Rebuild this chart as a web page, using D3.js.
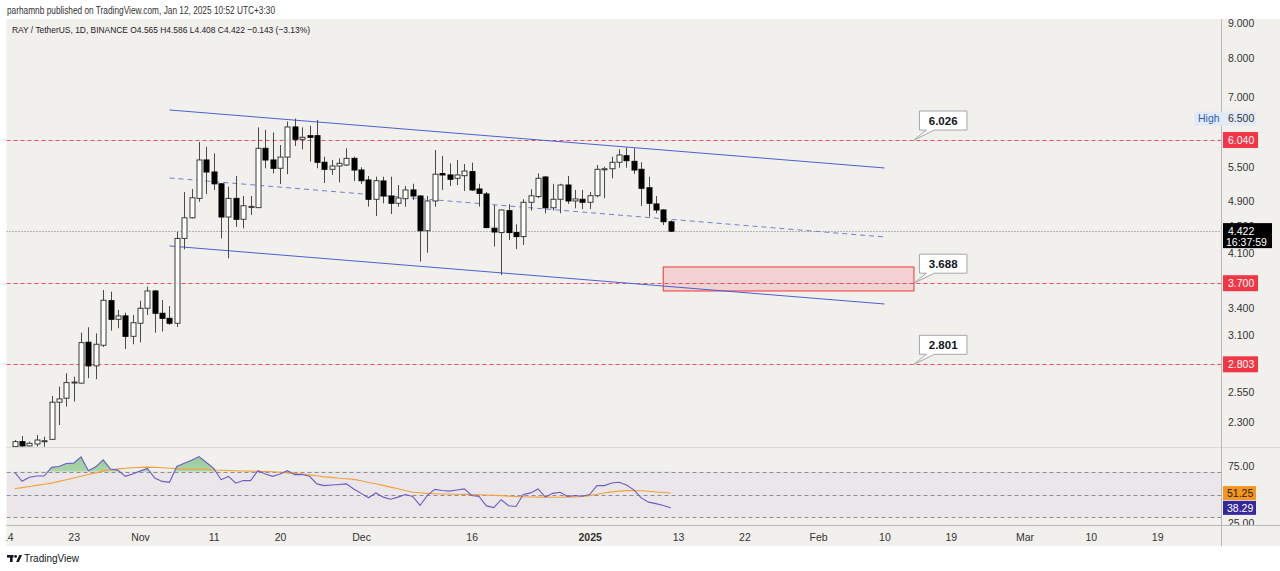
<!DOCTYPE html>
<html><head><meta charset="utf-8">
<script src="https://cdn.jsdelivr.net/npm/d3@7"></script>
<style>
html,body{margin:0;padding:0;background:#fff;}
svg{display:block;font-family:"Liberation Sans","DejaVu Sans",Arial,sans-serif;}
</style>
</head><body>
<svg id="c" width="1280" height="571"></svg>
<script>
// ---------------- DATA ----------------
const firstDay = "2024-10-15";
const lastDay = "2025-01-12";
const open = [2.115,2.151,2.120,2.134,2.156,2.168,2.462,2.496,2.633,2.628,
3.023,2.788,2.992,3.485,3.270,3.308,3.085,3.226,3.396,3.603,
3.338,3.281,3.226,4.313,4.628,4.946,5.641,5.414,5.199,4.641,
4.946,4.605,4.808,4.792,5.871,5.641,5.483,5.697,6.316,6.055,
6.130,6.130,5.597,5.464,5.526,5.545,5.672,5.451,5.268,4.931,
5.250,4.987,4.864,4.941,5.091,4.987,4.428,4.903,5.384,5.359,
5.298,5.346,5.421,5.108,5.022,4.466,4.400,4.743,4.400,4.340,
4.881,4.978,5.322,4.790,4.931,5.178,4.903,4.931,4.881,4.992,
5.470,5.474,5.597,5.724,5.615,5.464,5.130,4.853,4.754,4.565];
const high = [2.163,2.193,2.151,2.201,2.188,2.515,2.597,2.719,2.687,3.124,
3.182,3.115,3.615,3.594,3.376,3.345,3.319,3.485,3.656,3.615,
3.493,3.422,4.414,5.056,5.109,6.000,5.903,5.771,5.210,5.148,
5.340,4.988,4.988,6.307,6.255,6.199,5.938,6.434,6.500,6.307,
6.340,6.469,5.705,5.641,5.672,5.871,5.705,5.502,5.340,5.328,
5.328,5.328,5.178,5.160,5.200,5.000,4.988,5.837,5.720,5.576,
5.641,5.564,5.589,5.199,5.056,4.836,4.760,4.847,4.526,4.931,
5.103,5.389,5.340,5.199,5.199,5.341,5.091,5.091,5.056,5.545,
5.513,5.705,5.850,5.890,5.870,5.597,5.328,4.988,4.765,4.586];
const low = [2.113,2.113,2.118,2.115,2.115,2.163,2.277,2.425,2.467,2.625,
2.673,2.664,2.974,3.145,3.171,2.954,3.002,3.022,3.319,3.124,
3.135,3.207,3.185,4.155,4.616,4.889,5.022,5.091,4.313,4.029,
4.488,4.464,4.673,4.790,5.483,5.385,5.196,5.373,5.918,5.850,
5.609,5.483,5.214,5.359,5.225,5.526,5.250,5.196,4.808,4.657,
4.864,4.689,4.808,4.808,4.919,3.983,4.106,4.808,5.091,5.160,
5.178,5.074,5.074,4.808,4.466,4.196,3.806,4.290,4.158,4.217,
4.743,4.950,4.700,4.743,4.700,4.853,4.782,4.770,4.770,4.965,
4.950,5.298,5.494,5.494,5.378,4.819,4.646,4.700,4.516,4.408];
const close = [2.151,2.120,2.139,2.163,2.158,2.462,2.490,2.633,2.638,3.019,
2.788,3.002,3.490,3.270,3.308,3.085,3.232,3.396,3.603,3.338,
3.281,3.226,4.313,4.628,4.956,5.641,5.414,5.199,4.641,4.946,
4.605,4.824,4.812,5.871,5.641,5.483,5.697,6.316,6.055,6.097,
6.097,5.597,5.464,5.526,5.577,5.672,5.451,5.255,4.931,5.255,
4.987,4.864,4.953,5.091,4.987,4.428,4.903,5.373,5.359,5.281,
5.359,5.432,5.091,5.032,4.476,4.409,4.754,4.400,4.340,4.881,
4.990,5.298,4.790,4.931,5.178,4.903,4.937,4.881,4.992,5.464,
5.474,5.597,5.738,5.628,5.451,5.120,4.864,4.754,4.567,4.422];
const rsi = [69.4,61.6,65.1,66.2,66.2,73.8,74.6,77.2,77.5,83.0,
70.9,74.3,80.4,72.3,71.4,65.9,68.0,70.5,72.9,64.5,
61.5,60.7,74.6,77.5,80.0,83.3,78.1,72.9,63.0,65.9,
59.9,62.2,62.2,70.9,68.0,65.9,68.0,70.9,67.4,67.6,
66.0,59.3,57.8,58.4,58.8,59.3,54.9,51.0,47.1,51.4,
47.7,45.9,47.7,50.0,48.3,40.4,49.5,54.5,53.5,53.0,
54.0,54.9,49.1,48.3,40.0,38.5,45.4,40.1,39.5,50.0,
51.4,54.9,47.7,51.0,52.0,48.3,49.1,48.5,50.0,57.8,
57.8,60.1,60.7,58.4,54.1,47.0,43.3,42.0,40.4,38.29];
const rsiMa = [55,56,57,58,59,60,61.5,63,64.5,66,
67.5,69,70.5,71.5,72.5,73,73.5,73.8,74,73.8,
73.5,73,72.5,72.3,72.2,72.2,72,71.5,71.3,71,
70.8,70.6,70.5,70.3,70.2,70,69.5,69,68.5,68,
67.2,66.5,65.5,65,64.3,63.8,63.3,62,60.5,59.5,
58,56.5,55,53.5,52,51.5,51,50.7,50.5,50.4,
50.2,50.1,50,49.8,49.5,49.2,49,48.6,48.3,48,
47.8,47.7,47.7,47.6,47.6,47.7,47.8,48.3,49,50.2,
51.3,52.3,53,53.4,53.5,53.3,52.8,52.2,51.7,51.25];

const priceTicks = [2.3, 2.55, 3.1, 3.4, 4.1, 4.5, 4.9, 5.5, 6.5, 7, 8, 9];
const redLevels = [6.040, 3.700, 2.803];
const calloutTexts = ["6.026", "3.688", "2.801"];
const lastPrice = 4.422;
const countdown = "16:37:59";
const highValue = 6.500;
const rsiLevels = [70, 50, 30];
const rsiTicks = [75, 25];
const xTickDates = ["2024-10-14","2024-10-23","2024-11-01","2024-11-11","2024-11-20","2024-12-01","2024-12-16","2025-01-01","2025-01-13","2025-01-22","2025-02-01","2025-02-10","2025-02-19","2025-03-01","2025-03-10","2025-03-19"];
const xTickLabels = ["14","23","Nov","11","20","Dec","16","2025","13","22","Feb","10","19","Mar","10","19"];
const channelDates = ["2024-11-05","2025-02-10"];
const channelUpper = [6.694, 5.489];
const channelMid = [5.304, 4.334];
const channelLower = [4.203, 3.446];
const zoneDates = ["2025-01-11","2025-02-14"];
const zonePrices = [3.911, 3.603];
const calloutDate = "2025-02-14";

// ---------------- LAYOUT ----------------
const parse = d3.utcParse("%Y-%m-%d");
const dates = d3.utcDay.range(parse(firstDay), d3.utcDay.offset(parse(lastDay), 1));
const CL = 6.5, AX = 1221, CT = 19, PB = 447, RT = 448, RB = 525, XB = 546;

const x = d3.scaleUtc().domain([parse(firstDay), parse(lastDay)]).range([14.7, 670.7]);
const y = d3.scaleLog().domain([2.3, 9]).range([422.1, 23.5]);
const ry = d3.scaleLinear().domain([30, 70]).range([517.3, 471.7]);

const svg = d3.select("#c");
const defs = svg.append("defs");
defs.append("clipPath").attr("id","mainClip").append("rect").attr("x",CL).attr("y",CT).attr("width",AX-CL).attr("height",PB-CT);
defs.append("clipPath").attr("id","rsiClip").append("rect").attr("x",CL).attr("y",RT).attr("width",AX-CL).attr("height",RB-RT);
defs.append("clipPath").attr("id","rsiAxClip").append("rect").attr("x",AX).attr("y",RT).attr("width",1280-AX).attr("height",RB-RT);
defs.append("clipPath").attr("id","xAxClip").append("rect").attr("x",CL).attr("y",RB).attr("width",AX-CL).attr("height",XB-RB);
defs.append("clipPath").attr("id","obClip").append("rect").attr("x",CL).attr("y",RT).attr("width",AX-CL).attr("height",ry(70)-RT);
const g1 = defs.append("linearGradient").attr("id","obGrad").attr("x1",0).attr("y1",0).attr("x2",0).attr("y2",1);
g1.append("stop").attr("offset","0%").attr("stop-color","#4caf50").attr("stop-opacity",0.55);
g1.append("stop").attr("offset","100%").attr("stop-color","#4caf50").attr("stop-opacity",0.12);

// backgrounds
svg.append("rect").attr("width",1280).attr("height",571).attr("fill","#ffffff");
svg.append("rect").attr("x",CL).attr("y",CT).attr("width",1280-CL).attr("height",XB-CT).attr("fill","#f2f0ed");

// header
svg.append("text").attr("x",7).attr("y",13.5).attr("font-size",10).attr("fill","#333")
  .attr("textLength",268).attr("lengthAdjust","spacingAndGlyphs")
  .text("parhamnb published on TradingView.com, Jan 12, 2025 10:52 UTC+3:30");
svg.append("text").attr("x",12).attr("y",32.5).attr("font-size",9.5).attr("fill","#222")
  .attr("textLength",298).attr("lengthAdjust","spacingAndGlyphs")
  .text("RAY / TetherUS, 1D, BINANCE O4.565 H4.586 L4.408 C4.422 \u22120.143 (\u22123.13%)");

// main pane
const main = svg.append("g").attr("clip-path","url(#mainClip)");

// red dashed levels
main.selectAll("line.lvl").data(redLevels).join("line")
  .attr("x1",CL).attr("x2",AX).attr("y1",d=>Math.round(y(d))+0.5).attr("y2",d=>Math.round(y(d))+0.5)
  .attr("stroke","#ee4a5c").attr("stroke-width",1).attr("stroke-dasharray","4,3");

// current price dotted line
main.append("line").attr("x1",CL).attr("x2",AX)
  .attr("y1",Math.round(y(lastPrice))+0.5).attr("y2",Math.round(y(lastPrice))+0.5)
  .attr("stroke","#777").attr("stroke-dasharray","1,2");

// target zone
main.append("rect")
  .attr("x",x(parse(zoneDates[0]))).attr("y",y(zonePrices[0]))
  .attr("width",x(parse(zoneDates[1]))-x(parse(zoneDates[0])))
  .attr("height",y(zonePrices[1])-y(zonePrices[0]))
  .attr("fill","rgba(242,54,69,0.16)").attr("stroke","#f0524f").attr("stroke-width",1.2);

// channel
const chLine = d3.line().x(d=>x(d[0])).y(d=>y(d[1]));
const cd = channelDates.map(parse);
[[channelUpper,null],[channelMid,"5,4"],[channelLower,null]].forEach(([arr,dash])=>{
  main.append("path").attr("d",chLine(cd.map((d,i)=>[d,arr[i]])))
    .attr("fill","none").attr("stroke", dash ? "#6e7fd6" : "#4b5fd3").attr("stroke-width",1)
    .attr("stroke-dasharray",dash);
});

// candles
const bw = 5;
const cg = main.append("g");
dates.forEach((d,i)=>{
  const cx = Math.round(x(d)) + 0.5;
  const up = close[i] >= open[i];
  cg.append("line").attr("x1",cx).attr("x2",cx).attr("y1",y(high[i])).attr("y2",y(low[i]))
    .attr("stroke","#4a4a4a").attr("stroke-width",1);
  const top = y(Math.max(open[i],close[i])), bot = y(Math.min(open[i],close[i]));
  cg.append("rect").attr("x",cx-bw/2).attr("y",top).attr("width",bw).attr("height",Math.max(1,bot-top))
    .attr("fill", up ? "#ffffff" : "#000000").attr("stroke", up ? "#3a3a3a" : "#000").attr("stroke-width",1);
});

// callouts
const ax0 = x(parse(calloutDate));
redLevels.forEach((lv,i)=>{
  const ay = y(lv);
  const bx0 = ax0 + 5.5, bx1 = ax0 + 53, by1 = ay - 10, by0 = ay - 29;
  const p = `M${bx0},${by0} L${bx1},${by0} L${bx1},${by1} L${bx0+15},${by1} L${ax0},${ay} L${bx0+7},${by1} L${bx0},${by1} Z`;
  svg.append("path").attr("d",p).attr("fill","#ffffff").attr("stroke","#a3a6ad").attr("stroke-width",1);
  svg.append("text").attr("x",(bx0+bx1)/2).attr("y",(by0+by1)/2+4).attr("text-anchor","middle")
    .attr("font-size",11.5).attr("font-weight","bold").attr("fill","#131722").text(calloutTexts[i]);
});

// RSI pane
const rp = svg.append("g").attr("clip-path","url(#rsiClip)");
rp.append("rect").attr("x",CL).attr("y",ry(70)).attr("width",AX-CL).attr("height",ry(30)-ry(70))
  .attr("fill","rgba(126,87,194,0.06)");
rp.selectAll("line.rl").data(rsiLevels).join("line")
  .attr("x1",CL).attr("x2",AX).attr("y1",d=>Math.round(ry(d))+0.5).attr("y2",d=>Math.round(ry(d))+0.5)
  .attr("stroke","#8d8d92").attr("stroke-dasharray","4,3").attr("stroke-width",1);
const rpts = dates.map((d,i)=>[x(d), ry(rsi[i])]);
rp.append("path").attr("clip-path","url(#obClip)")
  .attr("d", d3.area().x(d=>d[0]).y0(ry(70)).y1(d=>d[1])(rpts))
  .attr("fill","url(#obGrad)");
rp.append("path").attr("d", d3.line().x(d=>x(d)).y((d,i)=>ry(rsiMa[i]))(dates))
  .attr("fill","none").attr("stroke","#f5a03a").attr("stroke-width",1.1);
rp.append("path").attr("d", d3.line()(rpts))
  .attr("fill","none").attr("stroke","#6a5cc8").attr("stroke-width",1.1);

// separators & axis lines
svg.append("line").attr("x1",CL).attr("x2",1280).attr("y1",PB+0.5).attr("y2",PB+0.5).attr("stroke","#dcdad6");
svg.append("line").attr("x1",CL).attr("x2",1280).attr("y1",RB+0.5).attr("y2",RB+0.5).attr("stroke","#b8b8bc");
svg.append("line").attr("x1",AX+0.5).attr("x2",AX+0.5).attr("y1",CT).attr("y2",XB).attr("stroke","#b8b8bc");

// price axis
const yAxis = svg.append("g").attr("transform",`translate(${AX},0)`)
  .call(d3.axisRight(y).tickValues(priceTicks).tickFormat(d3.format(".3f")).tickSize(0).tickPadding(7));
yAxis.select(".domain").remove();
yAxis.selectAll("text").attr("font-size",10.5).attr("fill","#333").attr("font-family","Liberation Sans, DejaVu Sans, sans-serif");

// High marker
svg.append("rect").attr("x",1194).attr("y",y(highValue)-7).attr("width",62).attr("height",14).attr("fill","#e2eaf6");
svg.append("text").attr("x",1198).attr("y",y(highValue)+3.5).attr("font-size",10.5).attr("fill","#2f5fb3").text("High");
svg.append("text").attr("x",AX+7).attr("y",y(highValue)+3.5).attr("font-size",10.5).attr("fill","#333").text(d3.format(".3f")(highValue));

// red level labels
redLevels.forEach(lv=>{
  svg.append("rect").attr("x",AX+2).attr("y",y(lv)-8).attr("width",35).attr("height",16).attr("fill","#f23645");
  svg.append("text").attr("x",AX+7).attr("y",y(lv)+4).attr("font-size",10.5).attr("fill","#fff").text(d3.format(".3f")(lv));
});
// last price label
svg.append("rect").attr("x",AX+2).attr("y",y(lastPrice)-8).attr("width",49).attr("height",25).attr("fill","#000");
svg.append("text").attr("x",AX+7).attr("y",y(lastPrice)+4).attr("font-size",10.5).attr("fill","#fff").text(d3.format(".3f")(lastPrice));
svg.append("text").attr("x",AX+5).attr("y",y(lastPrice)+15).attr("font-size",10.5).attr("fill","#fff").text(countdown);

// RSI axis
const ra = svg.append("g").attr("clip-path","url(#rsiAxClip)");
ra.selectAll("text.rt").data(rsiTicks).join("text").attr("x",AX+7).attr("y",d=>ry(d)+4)
  .attr("font-size",10.5).attr("fill","#333").text(d=>d3.format(".2f")(d));
const maLast = rsiMa[rsiMa.length-1], rsiLast = rsi[rsi.length-1];
ra.append("rect").attr("x",AX+2).attr("y",ry(maLast)-7).attr("width",33).attr("height",14).attr("fill","#f7961e");
ra.append("text").attr("x",AX+6).attr("y",ry(maLast)+4).attr("font-size",10.5).attr("fill","#222").text(d3.format(".2f")(maLast));
ra.append("rect").attr("x",AX+2).attr("y",ry(rsiLast)-7).attr("width",33).attr("height",14).attr("fill","#35279c");
ra.append("text").attr("x",AX+6).attr("y",ry(rsiLast)+4).attr("font-size",10.5).attr("fill","#fff").text(d3.format(".2f")(rsiLast));

// x axis
const xg = svg.append("g").attr("clip-path","url(#xAxClip)").append("g").attr("transform",`translate(0,${RB})`)
  .call(d3.axisBottom(x).tickValues(xTickDates.map(parse)).tickFormat((d,i)=>xTickLabels[i]).tickSize(0).tickPadding(9));
xg.select(".domain").remove();
xg.selectAll("text").attr("font-size",10.5).attr("fill","#333").attr("font-family","Liberation Sans, DejaVu Sans, sans-serif")
  .attr("font-weight",(d,i)=>xTickLabels[i]==="2025"?"bold":"normal");

// footer logo
const lg = svg.append("g").attr("fill","#131722");
lg.append("rect").attr("x",7).attr("y",555).attr("width",6.5).attr("height",2.6);
lg.append("rect").attr("x",10).attr("y",555).attr("width",2.6).attr("height",7);
lg.append("circle").attr("cx",15.6).attr("cy",556.4).attr("r",1.4);
lg.append("path").attr("d","M16.2,562 L19.3,555 L22,555 L18.9,562 Z");
svg.append("text").attr("x",24).attr("y",562).attr("font-size",10).attr("fill","#131722").text("TradingView");
</script>
</body></html>
